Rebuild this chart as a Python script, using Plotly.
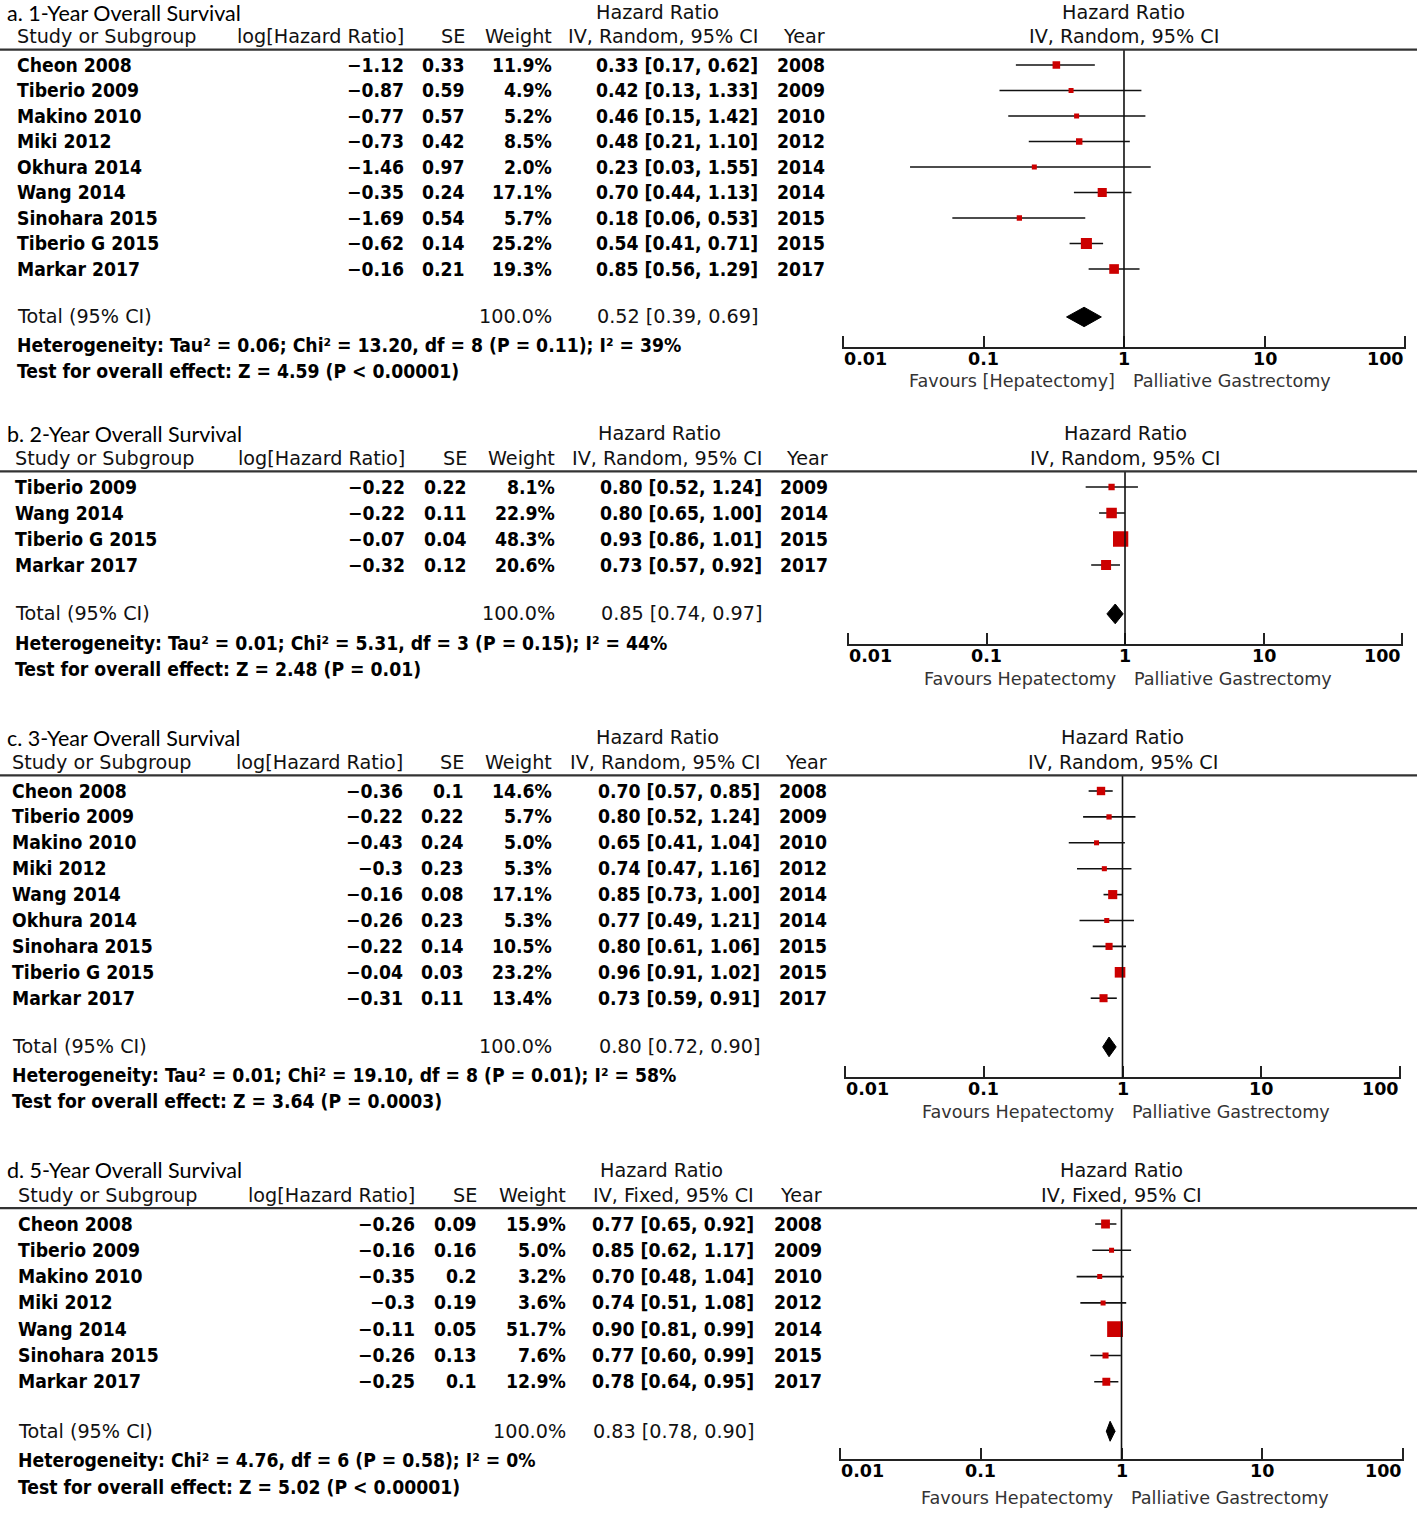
import math
import plotly.graph_objects as go

W, H = 1417, 1540

# ---------------- DATA ----------------
# a. 1-Year Overall Survival (IV, Random)
a_title = "a. 1-Year Overall Survival"
a_method = "IV, Random, 95% CI"
a_study = ["Cheon 2008", "Tiberio 2009", "Makino 2010", "Miki 2012", "Okhura 2014",
           "Wang 2014", "Sinohara 2015", "Tiberio G 2015", "Markar 2017"]
a_loghr = [-1.12, -0.87, -0.77, -0.73, -1.46, -0.35, -1.69, -0.62, -0.16]
a_se = [0.33, 0.59, 0.57, 0.42, 0.97, 0.24, 0.54, 0.14, 0.21]
a_weight = [11.9, 4.9, 5.2, 8.5, 2.0, 17.1, 5.7, 25.2, 19.3]
a_hr = [0.33, 0.42, 0.46, 0.48, 0.23, 0.70, 0.18, 0.54, 0.85]
a_lo = [0.17, 0.13, 0.15, 0.21, 0.03, 0.44, 0.06, 0.41, 0.56]
a_hi = [0.62, 1.33, 1.42, 1.10, 1.55, 1.13, 0.53, 0.71, 1.29]
a_year = [2008, 2009, 2010, 2012, 2014, 2014, 2015, 2015, 2017]
a_total = [0.52, 0.39, 0.69]
a_total_weight = 100.0
a_het = "Heterogeneity: Tau² = 0.06; Chi² = 13.20, df = 8 (P = 0.11); I² = 39%"
a_test = "Test for overall effect: Z = 4.59 (P < 0.00001)"
a_fav_left = "Favours [Hepatectomy]"
a_fav_right = "Palliative Gastrectomy"

# b. 2-Year Overall Survival (IV, Random)
b_title = "b. 2-Year Overall Survival"
b_method = "IV, Random, 95% CI"
b_study = ["Tiberio 2009", "Wang 2014", "Tiberio G 2015", "Markar 2017"]
b_loghr = [-0.22, -0.22, -0.07, -0.32]
b_se = [0.22, 0.11, 0.04, 0.12]
b_weight = [8.1, 22.9, 48.3, 20.6]
b_hr = [0.80, 0.80, 0.93, 0.73]
b_lo = [0.52, 0.65, 0.86, 0.57]
b_hi = [1.24, 1.00, 1.01, 0.92]
b_year = [2009, 2014, 2015, 2017]
b_total = [0.85, 0.74, 0.97]
b_total_weight = 100.0
b_het = "Heterogeneity: Tau² = 0.01; Chi² = 5.31, df = 3 (P = 0.15); I² = 44%"
b_test = "Test for overall effect: Z = 2.48 (P = 0.01)"
b_fav_left = "Favours Hepatectomy"
b_fav_right = "Palliative Gastrectomy"

# c. 3-Year Overall Survival (IV, Random)
c_title = "c. 3-Year Overall Survival"
c_method = "IV, Random, 95% CI"
c_study = ["Cheon 2008", "Tiberio 2009", "Makino 2010", "Miki 2012", "Wang 2014",
           "Okhura 2014", "Sinohara 2015", "Tiberio G 2015", "Markar 2017"]
c_loghr = [-0.36, -0.22, -0.43, -0.3, -0.16, -0.26, -0.22, -0.04, -0.31]
c_se = [0.1, 0.22, 0.24, 0.23, 0.08, 0.23, 0.14, 0.03, 0.11]
c_weight = [14.6, 5.7, 5.0, 5.3, 17.1, 5.3, 10.5, 23.2, 13.4]
c_hr = [0.70, 0.80, 0.65, 0.74, 0.85, 0.77, 0.80, 0.96, 0.73]
c_lo = [0.57, 0.52, 0.41, 0.47, 0.73, 0.49, 0.61, 0.91, 0.59]
c_hi = [0.85, 1.24, 1.04, 1.16, 1.00, 1.21, 1.06, 1.02, 0.91]
c_year = [2008, 2009, 2010, 2012, 2014, 2014, 2015, 2015, 2017]
c_total = [0.80, 0.72, 0.90]
c_total_weight = 100.0
c_het = "Heterogeneity: Tau² = 0.01; Chi² = 19.10, df = 8 (P = 0.01); I² = 58%"
c_test = "Test for overall effect: Z = 3.64 (P = 0.0003)"
c_fav_left = "Favours Hepatectomy"
c_fav_right = "Palliative Gastrectomy"

# d. 5-Year Overall Survival (IV, Fixed)
d_title = "d. 5-Year Overall Survival"
d_method = "IV, Fixed, 95% CI"
d_study = ["Cheon 2008", "Tiberio 2009", "Makino 2010", "Miki 2012", "Wang 2014",
           "Sinohara 2015", "Markar 2017"]
d_loghr = [-0.26, -0.16, -0.35, -0.3, -0.11, -0.26, -0.25]
d_se = [0.09, 0.16, 0.2, 0.19, 0.05, 0.13, 0.1]
d_weight = [15.9, 5.0, 3.2, 3.6, 51.7, 7.6, 12.9]
d_hr = [0.77, 0.85, 0.70, 0.74, 0.90, 0.77, 0.78]
d_lo = [0.65, 0.62, 0.48, 0.51, 0.81, 0.60, 0.64]
d_hi = [0.92, 1.17, 1.04, 1.08, 0.99, 0.99, 0.95]
d_year = [2008, 2009, 2010, 2012, 2014, 2015, 2017]
d_total = [0.83, 0.78, 0.90]
d_total_weight = 100.0
d_het = "Heterogeneity: Chi² = 4.76, df = 6 (P = 0.58); I² = 0%"
d_test = "Test for overall effect: Z = 5.02 (P < 0.00001)"
d_fav_left = "Favours Hepatectomy"
d_fav_right = "Palliative Gastrectomy"

tick_vals = [0.01, 0.1, 1, 10, 100]
tick_text = ["0.01", "0.1", "1", "10", "100"]
null_value = 1

# ---------------- LAYOUT (pixels) ----------------
panels = [
    dict(title=a_title, method=a_method, study=a_study, loghr=a_loghr, se=a_se, weight=a_weight,
         hr=a_hr, lo=a_lo, hi=a_hi, year=a_year, total=a_total, tw=a_total_weight,
         het=a_het, test=a_test, favl=a_fav_left, favr=a_fav_right,
         first=65, sp=25.5, axis_px=348, left=16, title_x=6,
         c_log=405, c_se=466, c_w=553, c_ci=759, c_yr=826, hr_c=657, fx0=843, fx1=1405),
    dict(title=b_title, method=b_method, study=b_study, loghr=b_loghr, se=b_se, weight=b_weight,
         hr=b_hr, lo=b_lo, hi=b_hi, year=b_year, total=b_total, tw=b_total_weight,
         het=b_het, test=b_test, favl=b_fav_left, favr=b_fav_right,
         first=487, sp=26.0, axis_px=645, left=14, title_x=6,
         c_log=406, c_se=468, c_w=556, c_ci=763, c_yr=829, hr_c=659, fx0=848, fx1=1402),
    dict(title=c_title, method=c_method, study=c_study, loghr=c_loghr, se=c_se, weight=c_weight,
         hr=c_hr, lo=c_lo, hi=c_hi, year=c_year, total=c_total, tw=c_total_weight,
         het=c_het, test=c_test, favl=c_fav_left, favr=c_fav_right,
         first=791, sp=25.9, axis_px=1078, left=11, title_x=6,
         c_log=404, c_se=465, c_w=553, c_ci=761, c_yr=828, hr_c=657, fx0=845, fx1=1400),
    dict(title=d_title, method=d_method, study=d_study, loghr=d_loghr, se=d_se, weight=d_weight,
         hr=d_hr, lo=d_lo, hi=d_hi, year=d_year, total=d_total, tw=d_total_weight,
         het=d_het, test=d_test, favl=d_fav_left, favr=d_fav_right,
         first=1224, sp=26.3, axis_px=1460, left=17, title_x=6,
         c_log=416, c_se=478, c_w=567, c_ci=755, c_yr=823, hr_c=661, fx0=840, fx1=1403),
]

ROW_FONT = dict(family="DejaVu Sans Condensed, DejaVu Sans", size=19.2, color="#000", weight="bold")
HEAD_FONT = dict(family="DejaVu Sans", size=19.2, color="#111")
TITLE_FONT = dict(family="Lato, Open Sans", size=21.5, color="#000")
FAV_FONT = dict(family="DejaVu Sans", size=17.6, color="#333")
TICK_FONT = dict(family="DejaVu Sans", size=17.5, color="#000", weight="bold")
RED = "#cc0000"
PAD = 0.01  # decades of padding so the edge ticks are drawn


def fmt(v):
    return ("%g" % v).replace("-", "−")


fig = go.Figure()
annotations = []
shapes = []
layout_axes = {}

for i, p in enumerate(panels):
    k = "" if i == 0 else str(i + 1)
    xa, ya = "x" + k, "y" + k
    n = len(p["study"])
    first, sp = p["first"], p["sp"]
    r_top, r_bot = -2.5, n + 3.9
    px_top, px_bot = first + r_top * sp, first + r_bot * sp
    axis_row = (p["axis_px"] - first) / sp
    rows = list(range(n))
    total_row = n + 0.88
    het_row = n + 2.0
    test_row = n + 3.0
    fav_row = n + 3.4
    tick_row = axis_row + 0.42
    title_row = -2.05
    head_row = -1.1
    line_row = -0.6

    dec = (p["fx1"] - p["fx0"]) / 4.0
    layout_axes["xaxis" + k] = dict(
        type="log", range=[-2 - PAD, 2 + PAD],
        domain=[(p["fx0"] - PAD * dec) / W, (p["fx1"] + PAD * dec) / W],
        anchor="free", position=1 - p["axis_px"] / H, automargin=False,
        tickvals=tick_vals, ticks="inside", ticklen=11, showticklabels=False,
        tickwidth=2, tickcolor="#222", showline=True, linecolor="#222", linewidth=2,
        showgrid=False, zeroline=False, fixedrange=True,
    )
    layout_axes["yaxis" + k] = dict(
        range=[r_bot, r_top], domain=[1 - px_bot / H, 1 - px_top / H], automargin=False,
        anchor=xa, visible=False, showgrid=False, zeroline=False, fixedrange=True,
    )

    # CI lines
    lx, ly = [], []
    for r, lo, hi in zip(rows, p["lo"], p["hi"]):
        lx += [lo, hi, None]
        ly += [r, r, None]
    fig.add_trace(go.Scatter(x=lx, y=ly, mode="lines", line=dict(color="#111", width=1.6),
                             xaxis=xa, yaxis=ya, hoverinfo="skip", showlegend=False))
    # point estimates
    sizes = [max(5, 2.2 * (w ** 0.5)) for w in p["weight"]]
    fig.add_trace(go.Scatter(x=p["hr"], y=rows, mode="markers",
                             marker=dict(symbol="square", size=sizes, color=RED, opacity=1,
                                         line=dict(width=0)),
                             xaxis=xa, yaxis=ya, showlegend=False))
    # diamond
    est, tlo, thi = p["total"]
    h = 0.38
    fig.add_trace(go.Scatter(x=[tlo, est, thi, est, tlo],
                             y=[total_row, total_row - h, total_row, total_row + h, total_row],
                             mode="lines", fill="toself", fillcolor="#000",
                             line=dict(color="#000", width=1),
                             xaxis=xa, yaxis=ya, showlegend=False))

    # vertical line of no effect
    shapes.append(dict(type="line", xref=xa, yref=ya, x0=null_value, x1=null_value,
                       y0=line_row, y1=axis_row, line=dict(color="#111", width=1.6)))
    # header separator
    shapes.append(dict(type="line", xref="paper", yref=ya, x0=0, x1=1, y0=line_row, y1=line_row,
                       line=dict(color="#333", width=2.2)))

    def txt(s, xpx, row, anchor, font):
        annotations.append(dict(text=s, x=xpx / W, xref="paper", y=row, yref=ya,
                                xanchor=anchor, yanchor="middle", showarrow=False, font=font,
                                borderpad=0))

    def atx(s, val, row, anchor, font, xshift=0):
        # annotations on a log axis take log10 positions
        annotations.append(dict(text=s, x=math.log10(val), xref=xa, y=row, yref=ya,
                                xanchor=anchor, yanchor="middle", showarrow=False, font=font,
                                borderpad=0, xshift=xshift))

    # axis tick labels (edge labels kept inside, as in the original)
    for j, (tv, tt) in enumerate(zip(tick_vals, tick_text)):
        anc = "left" if j == 0 else ("right" if j == len(tick_vals) - 1 else "center")
        atx(tt, tv, tick_row, anc, TICK_FONT)

    # titles and headers
    txt(p["title"], p["title_x"], title_row, "left", TITLE_FONT)
    txt("Hazard Ratio", p["hr_c"], title_row, "center", HEAD_FONT)
    txt("Study or Subgroup", p["left"], head_row, "left", HEAD_FONT)
    txt("log[Hazard Ratio]", p["c_log"], head_row, "right", HEAD_FONT)
    txt("SE", p["c_se"], head_row, "right", HEAD_FONT)
    txt("Weight", p["c_w"], head_row, "right", HEAD_FONT)
    txt(p["method"], p["c_ci"], head_row, "right", HEAD_FONT)
    txt("Year", p["c_yr"], head_row, "right", HEAD_FONT)
    atx("Hazard Ratio", null_value, title_row, "center", HEAD_FONT)
    atx(p["method"], null_value, head_row, "center", HEAD_FONT)

    # study rows
    for r in rows:
        txt(p["study"][r], p["left"], r, "left", ROW_FONT)
        txt(fmt(p["loghr"][r]), p["c_log"], r, "right", ROW_FONT)
        txt(fmt(p["se"][r]), p["c_se"], r, "right", ROW_FONT)
        txt("%.1f%%" % p["weight"][r], p["c_w"], r, "right", ROW_FONT)
        txt("%.2f [%.2f, %.2f]" % (p["hr"][r], p["lo"][r], p["hi"][r]), p["c_ci"], r, "right", ROW_FONT)
        txt(str(p["year"][r]), p["c_yr"], r, "right", ROW_FONT)

    # totals
    txt("Total (95% CI)", p["left"], total_row, "left", HEAD_FONT)
    txt("%.1f%%" % p["tw"], p["c_w"], total_row, "right", HEAD_FONT)
    txt("%.2f [%.2f, %.2f]" % (est, tlo, thi), p["c_ci"], total_row, "right", HEAD_FONT)
    txt(p["het"], p["left"], het_row, "left", ROW_FONT)
    txt(p["test"], p["left"], test_row, "left", ROW_FONT)

    # favours labels
    atx(p["favl"], null_value, fav_row, "right", FAV_FONT, xshift=-8)
    atx(p["favr"], null_value, fav_row, "left", FAV_FONT, xshift=8)

fig.update_layout(
    template="none",
    width=W, height=H, margin=dict(l=0, r=0, t=0, b=0, pad=0, autoexpand=False),
    paper_bgcolor="white", plot_bgcolor="white",
    showlegend=False, annotations=annotations, shapes=shapes,
    **layout_axes,
)

fig.write_html("out.html", config={"displayModeBar": False},
               post_script="document.body.style.margin='0';")
